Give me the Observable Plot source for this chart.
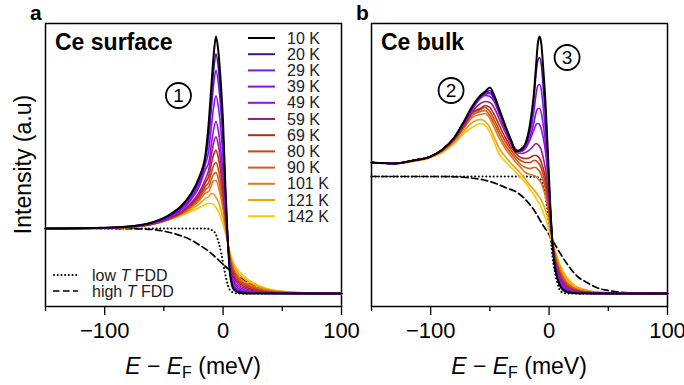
<!DOCTYPE html>
<html><head><meta charset="utf-8">
<script src="https://cdn.jsdelivr.net/npm/d3@7"></script>
<script src="https://cdn.jsdelivr.net/npm/@observablehq/plot@0.6"></script>
<style>
body{margin:0;background:#fff;}
#wrap{position:relative;width:684px;height:385px;overflow:hidden;font-family:"Liberation Sans",Arial,sans-serif;}
#wrap > svg, #wrap > figure{position:absolute;top:0;margin:0;}
</style></head><body><div id="wrap"></div>
<script>
// ---------- data ----------
const temps = [10, 20, 29, 39, 49, 59, 69, 80, 90, 101, 121, 142];
const tempLabels = ["10 K","20 K","29 K","39 K","49 K","59 K","69 K","80 K","90 K","101 K","121 K","142 K"];
const tempColors = ["#000000","#4a0f8f","#7a1ae8","#8a10f5","#9310e0","#9e1a90","#b82a10","#c9441a","#d55a1a","#e07a20","#f0a010","#f8c800"];

// panel a: Ce surface (energy in meV, intensity in arbitrary units)
const energyA = [-150, -110, -80, -60, -45, -35, -27, -20, -15, -12, -10, -8, -6, -4, -2, 0, 2, 4, 6, 9, 13, 20, 30, 45, 70, 100];
const surf10  = [65, 65.5, 67, 71, 79, 88, 100, 117, 138, 173, 206, 238, 257, 242, 212, 170, 105, 52, 18, 4, 1, 0, 0, 0, 0, 0];
const surf20  = [65, 65.5, 67, 71, 78, 87, 99, 115, 135.5, 164.5, 194.2, 222.8, 239.6, 225.7, 198.1, 159.7, 100.6, 52, 20, 6, 2, 0.6, 0.2, 0, 0, 0];
const surf29  = [65, 65.4, 66.9, 70.5, 77.5, 86, 97.5, 113, 132.9, 156.6, 183, 208.5, 223.1, 210.3, 185.1, 150, 96.5, 52, 22, 8, 3.5, 1.2, 0.4, 0.1, 0, 0];
const surf39  = [65, 65.4, 66.8, 70.2, 76.8, 85, 95.5, 110.5, 128.6, 144.2, 165.7, 186.3, 197.7, 186.5, 164.8, 135, 90.1, 52, 24, 11, 5, 2, 0.7, 0.2, 0, 0];
const surf49  = [65, 65.4, 66.7, 70, 76.2, 84, 93.8, 107.3, 123.7, 131.7, 148.3, 163.9, 172, 162.5, 144.4, 119.8, 83.6, 52, 26, 13, 7, 3, 1, 0.3, 0, 0];
const surf59  = [65, 65.3, 66.5, 69.7, 75.5, 82.2, 90.6, 101.5, 114.2, 124.3, 137.9, 150.5, 156.6, 148.1, 132.2, 110.7, 79.8, 52, 28, 16, 9, 4.5, 1.8, 0.5, 0.1, 0];
const surf69  = [65, 65.2, 66.4, 69.5, 75.2, 81.5, 89.3, 99.2, 110.6, 117.8, 128.9, 138.9, 143.3, 135.6, 121.6, 102.8, 76.4, 51, 30, 18, 11, 6, 2.5, 0.8, 0.1, 0];
const surf80  = [65, 65.2, 66.4, 69.4, 74.9, 80.9, 88.1, 97, 107, 111.8, 120.5, 128.2, 131, 124.1, 111.8, 95.6, 73.3, 51, 32, 21, 13, 7.5, 3.5, 1.1, 0.2, 0];
const surf90  = [65, 65.2, 66.3, 69.3, 74.6, 80.1, 86.9, 95.1, 103.9, 106.9, 113.7, 119.4, 120.9, 114.6, 103.7, 89.6, 70.8, 51, 34, 23, 15, 9, 4.3, 1.5, 0.3, 0];
const surf101 = [65, 65.1, 66.2, 69.2, 74.5, 79.6, 85.7, 93, 100.5, 102, 108, 113, 113, 107, 97, 84, 68.2, 51, 36, 25, 17, 10.5, 5.2, 1.9, 0.4, 0];
const surf121 = [65, 65, 66.1, 69.1, 74.2, 78.8, 83.9, 89.6, 94.9, 97, 100, 99.5, 96, 91.6, 84.2, 75, 64.6, 50, 38, 28, 20, 13, 6.8, 2.5, 0.6, 0];
const surf142 = [65, 65, 66, 69, 74, 78, 82, 86, 89, 90, 90, 89, 86, 82, 76, 69, 60, 50, 40, 30, 23, 15, 8, 3, 0.8, 0];

const fddLowEnergyA  = [-150, -20, -12, -9, -6.5, -3.5, -1.5, 0.5, 3, 5.5, 9, 13, 100];
const fddLowA        = [65, 65, 64.6, 63, 60, 50, 40, 27, 13, 4, 0.8, 0, 0];
const fddHighEnergyA = [-150, -100, -80, -60, -45, -35, -27, -20, -13, -8, -3, 2, 6, 10, 15, 23, 31, 40, 55, 75, 100];
const fddHighA       = [65, 65, 64.8, 64, 61, 57.5, 53.5, 48.5, 43, 38, 32.5, 27, 23, 19.5, 15.5, 10, 6, 3.5, 1.3, 0.4, 0.1];

// panel b: Ce bulk
const energyB = [-150, -130, -115, -100, -90, -80, -72, -65, -58, -54, -50, -46, -42, -37, -32, -28, -24, -20, -16, -13, -11, -9.5, -8, -6.5, -5, -3, -1, 1, 3, 5, 7, 10, 14, 20, 30, 45, 70, 100];
const bulk10  = [131, 130, 133, 137, 144, 156, 172, 187, 198, 202, 206, 197, 184, 168, 153, 142, 144, 150, 170, 198, 228, 250, 257, 249, 226, 190, 140, 88, 48, 26, 15, 6, 2, 0.5, 0, 0, 0, 0];
const bulk20  = [131, 130, 133, 137, 144, 156, 171, 186, 197, 201, 203, 195, 182, 166, 152, 143, 143, 149, 167, 192, 220, 233, 236, 228, 207, 177, 134, 87, 48, 27, 16, 7, 2.5, 0.8, 0.2, 0, 0, 0];
const bulk29  = [131, 130, 133, 137, 144, 156, 171, 186, 197, 200, 201, 194, 181, 166, 152, 143, 142, 147, 162, 180, 199, 208, 209, 203, 187, 162, 127, 85, 48, 28, 17, 8, 3, 1, 0.3, 0, 0, 0];
const bulk39  = [131, 130, 133, 137, 144, 156, 171, 185, 196, 199, 200, 193, 180, 165, 152, 144, 142, 146, 157, 170, 181, 185, 185, 180, 169, 150, 121, 83, 49, 30, 19, 10, 4, 1.5, 0.4, 0.1, 0, 0];
const bulk49  = [131, 130, 133, 137, 144, 156, 170, 184, 195, 198, 197, 191, 179, 164, 151, 144, 142, 145, 154, 163, 169, 170, 169, 164, 156, 141, 116, 81, 49, 31, 21, 12, 5.5, 2, 0.6, 0.1, 0, 0];
const bulk59  = [131, 130, 133, 137, 144, 155, 169, 182, 190, 192, 191, 185, 174, 161, 149, 142, 140, 141, 144, 148, 150, 149, 147, 143, 136, 124, 105, 77, 50, 33, 23, 14, 7, 3, 1, 0.2, 0, 0];
const bulk69  = [131, 130, 133, 137, 144, 155, 168, 181, 185, 188, 186, 178, 168, 156, 146, 140, 136, 135, 136, 138, 138, 137, 135, 131, 125, 115, 98, 75, 51, 35, 25, 16, 8.5, 3.8, 1.2, 0.3, 0, 0];
const bulk80  = [131, 130, 133, 137, 143, 154, 167, 180, 184, 186, 182, 173, 163, 152, 143, 137, 133, 131, 131, 133, 133, 131, 129, 125, 119, 109, 94, 73, 51, 36, 27, 18, 10, 4.8, 1.5, 0.4, 0, 0];
const bulk90  = [131, 130, 133, 137, 143, 153, 166, 178, 182, 183, 178, 169, 159, 148, 140, 134, 129, 126, 125, 126, 126, 124, 122, 118, 113, 104, 90, 71, 52, 38, 29, 20, 11.5, 5.6, 2, 0.5, 0.1, 0];
const bulk101 = [131, 130, 133, 137, 143, 153, 165, 176, 179, 180, 175, 165, 155, 145, 137, 131, 126, 121, 119, 118, 117, 115, 113, 110, 105, 97, 86, 69, 52, 39, 31, 22, 13, 6.5, 2.5, 0.7, 0.1, 0];
const bulk121 = [131, 130, 132, 136, 142, 151, 162, 171, 174, 172, 166, 155, 145, 137, 130, 125, 120, 114, 108, 104, 101, 98, 96, 93, 89, 83, 75, 64, 52, 42, 34, 25, 16, 8.5, 3.5, 1, 0.2, 0];
const bulk142 = [131, 130, 132, 136, 141, 150, 160, 166, 170, 168, 161, 150, 139, 132, 126, 121, 116, 111, 104, 99, 95, 92, 89, 85, 81, 75, 67, 58, 50, 43, 36, 27, 18, 10, 4, 1.2, 0.3, 0];

const fddLowEnergyB  = [-150, -30, -12, -8, -5.5, -3.5, -2, -0.6, 1, 2.3, 3.5, 5, 7, 9.3, 12, 16, 100];
const fddLowB        = [117, 117, 116.8, 115, 109, 100, 89, 76, 59, 43, 31, 21, 10, 3, 0.8, 0, 0];
const fddHighEnergyB = [-150, -90, -70, -55, -45, -37, -27, -20, -12, -5, 0, 5, 10, 15, 20, 25, 32, 40, 50, 60, 75, 100];
const fddHighB       = [117, 117, 116, 113.5, 110, 106, 101, 94, 82, 68, 59, 49, 39, 30, 22, 16, 11, 6, 3, 1.3, 0.4, 0];

const xTicksMajor = [-100, 0, 100];
const xTicksMinor = [-150, -50, 50];
const annotA = [{E: -37.7, I: 198, label: "1"}];
const annotB = [{E: -82.8, I: 203, label: "2"}, {E: 15.2, I: 236, label: "3"}];

// ---------- build ----------
const surfSeries = [surf10, surf20, surf29, surf39, surf49, surf59, surf69, surf80, surf90, surf101, surf121, surf142];
const bulkSeries = [bulk10, bulk20, bulk29, bulk39, bulk49, bulk59, bulk69, bulk80, bulk90, bulk101, bulk121, bulk142];
const rowsOf = (E, I) => E.map((e, i) => ({E: e, I: I[i]}));
const FONT = "Liberation Sans, Arial, sans-serif";

function panel(series, energy, fLowE, fLow, fHighE, fHigh, annots, opts) {
  const marks = [Plot.frame({stroke: "black", strokeWidth: 1.5})];
  marks.push(Plot.line(rowsOf(fLowE, fLow), {x: "E", y: "I", stroke: "black", strokeWidth: 2, strokeDasharray: "0.1,3.6", strokeLinecap: "round", curve: "monotone-x"}));
  marks.push(Plot.line(rowsOf(fHighE, fHigh), {x: "E", y: "I", stroke: "black", strokeWidth: 1.7, strokeDasharray: "6.5,3.5", curve: "monotone-x"}));
  for (let k = series.length - 1; k >= 0; k--) {
    marks.push(Plot.line(rowsOf(energy, series[k]), {x: "E", y: "I", stroke: tempColors[k], strokeWidth: k === 0 ? 2 : 1.6, curve: "monotone-x"}));
  }
  marks.push(Plot.dot(annots, {x: "E", y: "I", r: 12.5, stroke: "black", strokeWidth: 1.8, fill: "none"}));
  marks.push(Plot.text(annots, {x: "E", y: "I", text: "label", fontSize: 19, fill: "black", dy: 0.5}));
  marks.push(Plot.axisX({ticks: xTicksMajor, tickSize: 9, tickPadding: 7, strokeWidth: 1.3, fontSize: 22, label: null, tickFormat: d3.format("d")}));
  marks.push(Plot.axisX({ticks: xTicksMinor, tickSize: 5, strokeWidth: 1.3, tickFormat: () => "", label: null}));
  return Plot.plot({
    width: opts.width, height: 385,
    marginLeft: opts.ml, marginRight: opts.mr, marginTop: 23, marginBottom: 79,
    x: {domain: [-150, 100], axis: null},
    y: {domain: [-13, 270], axis: null},
    style: {fontFamily: FONT, background: "transparent", overflow: "visible"},
    marks
  });
}

const wrap = document.getElementById("wrap");
const pa = panel(surfSeries, energyA, fddLowEnergyA, fddLowA, fddHighEnergyA, fddHighA, annotA, {width: 345, ml: 45, mr: 4});
pa.style.left = "0px";
wrap.appendChild(pa);
const pb = panel(bulkSeries, energyB, fddLowEnergyB, fddLowB, fddHighEnergyB, fddHighB, annotB, {width: 339, ml: 26, mr: 17});
pb.style.left = "345px";
wrap.appendChild(pb);

// ---------- overlay texts & legends ----------
const svg = d3.create("svg").attr("width", 684).attr("height", 385)
  .style("position", "absolute").style("left", "0px").style("top", "0px")
  .style("font-family", FONT);
svg.append("text").attr("x", 30).attr("y", 20).attr("font-size", 21).attr("font-weight", "bold").text("a");
svg.append("text").attr("x", 356).attr("y", 20).attr("font-size", 21).attr("font-weight", "bold").text("b");
svg.append("text").attr("x", 55).attr("y", 50).attr("font-size", 23).attr("font-weight", "bold").text("Ce surface");
svg.append("text").attr("x", 381).attr("y", 50).attr("font-size", 23).attr("font-weight", "bold").text("Ce bulk");

// temperature legend
temps.forEach((t, i) => {
  const y = 38 + i * 16.2;
  svg.append("line").attr("x1", 248).attr("x2", 275).attr("y1", y).attr("y2", y).attr("stroke", tempColors[i]).attr("stroke-width", 2);
  svg.append("text").attr("x", 287).attr("y", y + 5.5).attr("font-size", 16).attr("fill", "#222").text(tempLabels[i]);
});
// FDD legend
svg.append("line").attr("x1", 54).attr("x2", 78).attr("y1", 275).attr("y2", 275).attr("stroke", "black").attr("stroke-width", 2).attr("stroke-dasharray", "0.1,3.6").attr("stroke-linecap", "round");
svg.append("line").attr("x1", 53).attr("x2", 78).attr("y1", 291).attr("y2", 291).attr("stroke", "black").attr("stroke-width", 1.7).attr("stroke-dasharray", "6.5,3.5");
const t1 = svg.append("text").attr("x", 92).attr("y", 281).attr("font-size", 16).attr("fill", "#222");
t1.append("tspan").text("low ");
t1.append("tspan").attr("font-style", "italic").text("T");
t1.append("tspan").text(" FDD");
const t2 = svg.append("text").attr("x", 92).attr("y", 297).attr("font-size", 16).attr("fill", "#222");
t2.append("tspan").text("high ");
t2.append("tspan").attr("font-style", "italic").text("T");
t2.append("tspan").text(" FDD");

// axis labels
function xlabel(cx) {
  const t = svg.append("text").attr("x", cx).attr("y", 374).attr("font-size", 23).attr("text-anchor", "middle");
  t.append("tspan").attr("font-style", "italic").text("E");
  t.append("tspan").text(" \u2212 ");
  t.append("tspan").attr("font-style", "italic").text("E");
  t.append("tspan").attr("font-size", 16).attr("dy", 4).text("F");
  t.append("tspan").attr("dy", -4).text(" (meV)");
}
xlabel(193);
xlabel(519);
svg.append("text").attr("transform", "translate(31,164.5) rotate(-90)").attr("text-anchor", "middle").attr("font-size", 23).text("Intensity (a.u)");
wrap.appendChild(svg.node());
</script>
</body></html>
